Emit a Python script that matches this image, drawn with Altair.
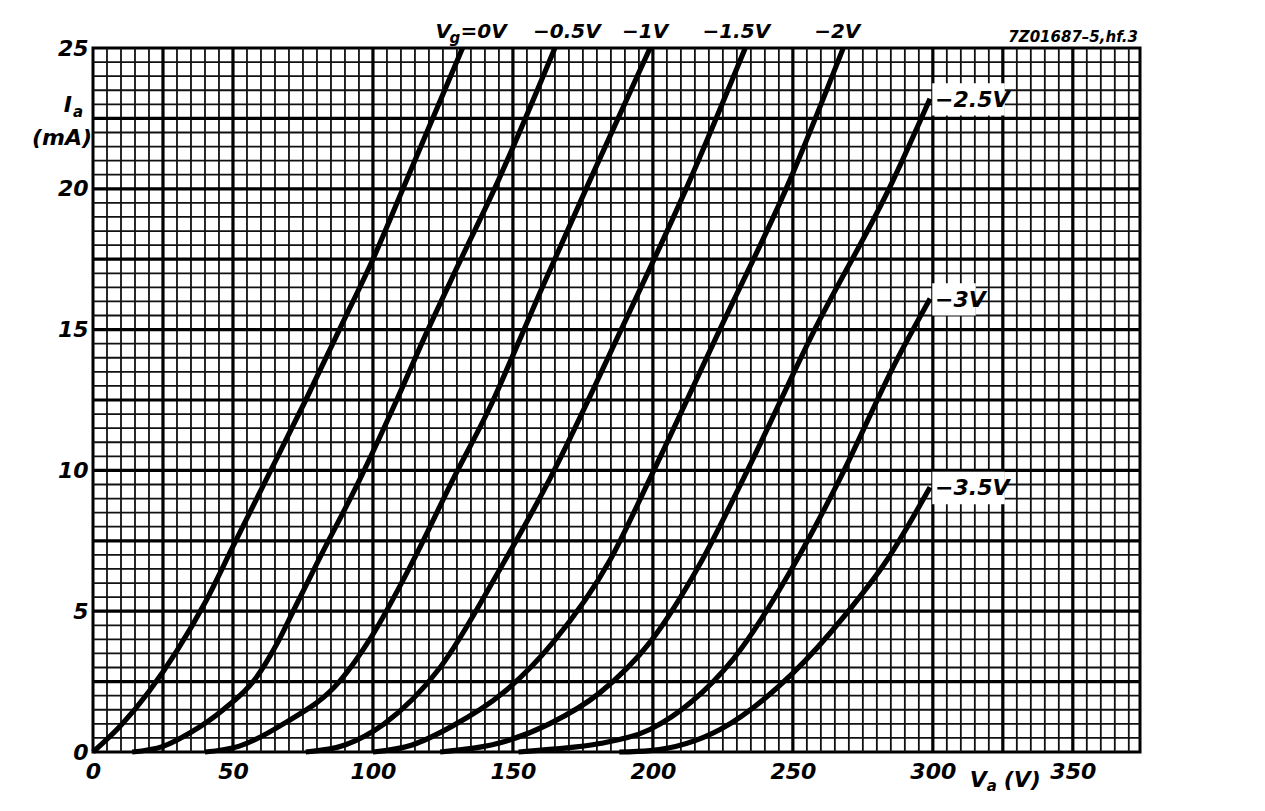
import altair as alt
import pandas as pd
import numpy as np

# ---- curve data: anode voltage Va (V) vs anode current Ia (mA) for each grid voltage ----
va_0 = [0, 10, 20, 30, 40, 50, 62, 76, 89, 100, 112, 132]
ia_0 = [0, 0.95, 2.15, 3.6, 5.3, 7.3, 9.7, 12.5, 15.2, 17.5, 20.3, 25]

va_05 = [14, 25, 35, 46.5, 58, 66, 73, 80, 95.4, 108.5, 119.2, 130, 144.8, 165]
ia_05 = [0, 0.2, 0.7, 1.5, 2.6, 3.9, 5.3, 6.7, 9.7, 12.5, 14.9, 17.2, 20.3, 25]

va_1 = [40, 52, 68, 88, 99.5, 114.4, 128.7, 143, 150.5, 159.6, 177.5, 199]
ia_1 = [0, 0.2, 1.0, 2.5, 4.1, 6.8, 9.7, 12.5, 14.2, 16.3, 20.3, 25]

va_15 = [76, 90, 104, 124, 145.4, 163.2, 188.2, 213.2, 233]
ia_15 = [0, 0.25, 1.0, 3.0, 6.5, 9.7, 14.9, 20.3, 25]

va_2 = [100, 114, 128, 146.5, 164.4, 184.6, 198.9, 223.9, 248.9, 268]
ia_2 = [0, 0.25, 0.9, 2.1, 3.9, 6.8, 9.7, 15, 20.3, 25]

va_25 = [124, 148, 163, 181, 199, 217.5, 232.3, 257.3, 285.8, 299]
ia_25 = [0, 0.4, 1.0, 2.1, 3.9, 6.8, 9.7, 14.9, 20.3, 23.2]

va_3 = [152, 164.3, 181, 198.9, 214, 228.7, 251.3, 266.8, 287, 299]
ia_3 = [0, 0.1, 0.3, 0.8, 1.8, 3.3, 6.8, 9.7, 13.9, 16.1]

va_35 = [188, 199, 224, 250, 269, 283.5, 299]
ia_35 = [0, 0.05, 0.8, 2.8, 4.9, 6.8, 9.4]

grid_voltages = ["0", "-0.5", "-1", "-1.5", "-2", "-2.5", "-3", "-3.5"]
curve_labels = ["0V", "\u22120.5V", "\u22121V", "\u22121.5V", "\u22122V", "\u22122.5V", "\u22123V", "\u22123.5V"]
top_labelled = ["-0.5", "-1", "-1.5", "-2"]
top_label_dx = [12, -5, -9, -6]
right_labelled = ["-2.5", "-3", "-3.5"]

x_ticks = [0, 50, 100, 150, 200, 250, 300, 350]
y_ticks = [0, 5, 10, 15, 20, 25]
x_major_grid = [25, 50, 100, 150, 200, 250, 300, 325, 350]
y_major_grid = [2.5, 5, 7.5, 10, 12.5, 15, 17.5, 20, 22.5]
x_minor_step = 5
y_minor_step = 0.5
x_max = 374
y_max = 25

code_text = "7Z01687\u20135,hf.3"

# ---- build tables ----
series = [va_0, va_05, va_1, va_15, va_2, va_25, va_3, va_35]
currents = [ia_0, ia_05, ia_1, ia_15, ia_2, ia_25, ia_3, ia_35]
rows = []
for vg, vs, is_ in zip(grid_voltages, series, currents):
    for k, (v, i) in enumerate(zip(vs, is_)):
        rows.append({"vg": vg, "va": v, "ia": i, "k": k})
df = pd.DataFrame(rows)

ends = pd.DataFrame({
    "vg": grid_voltages,
    "text": curve_labels,
    "va": [s[-1] for s in series],
    "ia": [c[-1] for c in currents],
})
right_df = ends[ends["vg"].isin(right_labelled)].copy()
right_df["x1"] = right_df["va"] + 0.8
right_df["x2"] = right_df["va"] + 0.8 + right_df["text"].str.len() * 14.5 / 2.8
right_df["y1"] = right_df["ia"] - 0.6
right_df["y2"] = right_df["ia"] + 0.55
zero_df = ends[ends["vg"] == "0"]

minor_x = [v for v in np.arange(x_minor_step, x_max, x_minor_step) if v not in x_major_grid]
minor_y = [v for v in np.arange(y_minor_step, y_max, y_minor_step) if round(v, 2) not in y_major_grid]
df_minor_x = pd.DataFrame({"va": minor_x})
df_major_x = pd.DataFrame({"va": x_major_grid})
df_minor_y = pd.DataFrame({"ia": minor_y})
df_major_y = pd.DataFrame({"ia": y_major_grid})
one = pd.DataFrame({"a": [0]})

FONT = "DejaVu Sans"

xscale = alt.Scale(domain=[0, x_max], nice=False, zero=False)
yscale = alt.Scale(domain=[0, y_max], nice=False, zero=False)
xaxis = alt.Axis(values=x_ticks, grid=False, domain=False, ticks=False, labelFont=FONT,
                 labelFontSize=22, labelFontStyle="italic", labelFontWeight="bold",
                 labelColor="black", labelPadding=9, labelFlush=False, labelOverlap=False)
yaxis = alt.Axis(values=y_ticks, grid=False, domain=False, ticks=False, labelFont=FONT,
                 labelFontSize=22, labelFontStyle="italic", labelFontWeight="bold",
                 labelColor="black", labelPadding=5, labelFlush=False, labelOverlap=False)


def X(field=None, datum=None):
    if datum is not None:
        return alt.X(datum=datum, scale=xscale, axis=xaxis, title=None)
    return alt.X(f"{field}:Q", scale=xscale, axis=xaxis, title=None)


def Y(field=None, datum=None):
    if datum is not None:
        return alt.Y(datum=datum, scale=yscale, axis=yaxis, title=None)
    return alt.Y(f"{field}:Q", scale=yscale, axis=yaxis, title=None)


grid_minor_v = alt.Chart(df_minor_x).mark_rule(color="#111", strokeWidth=1.8).encode(x=X("va"))
grid_minor_h = alt.Chart(df_minor_y).mark_rule(color="#111", strokeWidth=1.8).encode(y=Y("ia"))
grid_major_v = alt.Chart(df_major_x).mark_rule(color="black", strokeWidth=3.2).encode(x=X("va"))
grid_major_h = alt.Chart(df_major_y).mark_rule(color="black", strokeWidth=3.2).encode(y=Y("ia"))

curves = alt.Chart(df).mark_line(color="black", strokeWidth=5.2, interpolate="monotone").encode(
    x=X("va"), y=Y("ia"), detail="vg:N", order="k:Q")

boxes = alt.Chart(right_df).mark_rect(color="white").encode(
    x=X("x1"), x2="x2:Q", y=Y("y1"), y2="y2:Q")

txt = dict(font=FONT, fontStyle="italic", fontWeight="bold", color="black")

top_layers = []
for vg, dx in zip(top_labelled, top_label_dx):
    sub = ends[ends["vg"] == vg]
    top_layers.append(
        alt.Chart(sub).mark_text(align="center", baseline="alphabetic", dx=dx, dy=-10,
                                 fontSize=20, **txt).encode(x=X("va"), y=Y("ia"), text="text:N"))

right_text = alt.Chart(right_df).mark_text(align="left", baseline="middle", dx=5, dy=1,
                                           fontSize=22, **txt).encode(x=X("va"), y=Y("ia"), text="text:N")
zero_V = alt.Chart(zero_df).mark_text(align="left", baseline="alphabetic", dx=-27, dy=-10,
                                      fontSize=20, text="V", **txt).encode(x=X("va"), y=Y("ia"))
zero_g = alt.Chart(zero_df).mark_text(align="left", baseline="alphabetic", dx=-13, dy=-5,
                                      fontSize=15, text="g", **txt).encode(x=X("va"), y=Y("ia"))
zero_rest = alt.Chart(zero_df).mark_text(align="left", baseline="alphabetic", dx=-2, dy=-10,
                                         fontSize=20, text="=0V", **txt).encode(x=X("va"), y=Y("ia"))

code_mark = alt.Chart(one).mark_text(align="right", baseline="alphabetic", dx=-2, dy=-6,
                                     fontSize=15, text=code_text, **txt).encode(
    x=X(datum=x_max), y=Y(datum=y_max))

ia_I = alt.Chart(one).mark_text(align="right", baseline="alphabetic", dx=-21, dy=64,
                                fontSize=22, text="I", **txt).encode(x=X(datum=0), y=Y(datum=y_max))
ia_a = alt.Chart(one).mark_text(align="right", baseline="alphabetic", dx=-10, dy=69,
                                fontSize=15, text="a", **txt).encode(x=X(datum=0), y=Y(datum=y_max))
ia_unit = alt.Chart(one).mark_text(align="right", baseline="alphabetic", dx=-1, dy=97,
                                   fontSize=22, text="(mA)", **txt).encode(x=X(datum=0), y=Y(datum=y_max))

va_V = alt.Chart(one).mark_text(align="right", baseline="alphabetic", dx=-86, dy=35,
                                fontSize=22, text="V", **txt).encode(x=X(datum=350), y=Y(datum=0))
va_a = alt.Chart(one).mark_text(align="left", baseline="alphabetic", dx=-86, dy=39,
                                fontSize=15, text="a", **txt).encode(x=X(datum=350), y=Y(datum=0))
va_unit = alt.Chart(one).mark_text(align="right", baseline="alphabetic", dx=-32, dy=35,
                                   fontSize=22, text="(V)", **txt).encode(x=X(datum=350), y=Y(datum=0))

chart = alt.layer(
    grid_minor_v, grid_minor_h, grid_major_v, grid_major_h, curves, boxes,
    *top_layers, right_text, zero_V, zero_g, zero_rest, code_mark,
    ia_I, ia_a, ia_unit, va_V, va_a, va_unit,
).properties(
    width=1047, height=704,
    autosize=alt.AutoSizeParams(type="none"),
    padding={"left": 85, "top": 40, "right": 117, "bottom": 51},
    background="white",
).configure_view(stroke="black", strokeWidth=3)

chart.save("out.html", embed_options={"renderer": "svg", "actions": False})
